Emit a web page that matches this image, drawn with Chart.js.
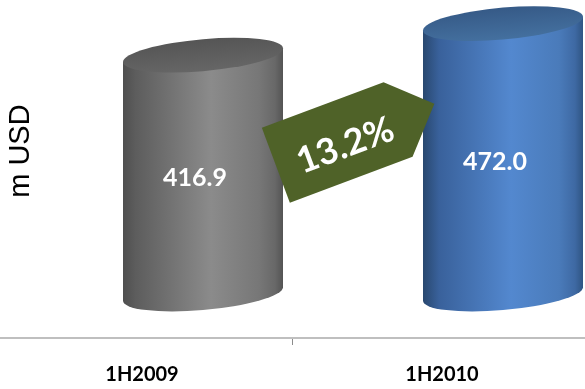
<!DOCTYPE html>
<html>
<head>
<meta charset="utf-8">
<script src="https://cdn.jsdelivr.net/npm/chart.js@4.4.1/dist/chart.umd.min.js"></script>
<style>
  html, body { margin: 0; padding: 0; background: #fff; overflow: hidden; }
  #wrap { width: 600px; height: 405px; margin-left: -8px; }
</style>
</head>
<body>
<div id="wrap"><canvas id="chart" width="600" height="405"></canvas></div>
<script>
'use strict';

// ── Data ──────────────────────────────────────────────────────────────────────
const categories = ['1H2009', '1H2010'];
const values     = [416.9, 472.0];
const axisTitle  = 'm USD';

// ── Look ──────────────────────────────────────────────────────────────────────
const DEPTH_X = 61;     // 3D shift of the cylinders to the right
const DEPTH_Y = 44;     // ... and upwards
const RX = 80, RY = 16; // cylinder ellipse radii
const SLOPE = -0.085;   // perspective tilt of the ellipses

const palettes = [
  { // grey
    side: [[0, '#4f4f4f'], [0.08, '#5d5d5d'], [0.55, '#8b8b8b'], [0.85, '#777777'], [0.95, '#686868'], [1, '#545454']],
    top: ['#555555', '#666666']
  },
  { // blue
    side: [[0, '#29486f'], [0.1, '#39619b'], [0.55, '#5388cf'], [0.85, '#4a7bba'], [0.95, '#3e69a3'], [1, '#2f5583']],
    top: ['#365a87', '#44709f']
  }
];

function drawCylinder(ctx, cx, top, bottom, pal) {
  ctx.save();
  ctx.transform(1, SLOPE, 0, 1, cx, 0);

  const g = ctx.createLinearGradient(-RX, 0, RX, 0);
  pal.side.forEach(s => g.addColorStop(s[0], s[1]));
  ctx.beginPath();
  ctx.moveTo(-RX, top);
  ctx.lineTo(-RX, bottom);
  ctx.ellipse(0, bottom, RX, RY, 0, Math.PI, 0, true);
  ctx.lineTo(RX, top);
  ctx.closePath();
  ctx.fillStyle = g;
  ctx.fill();

  const gt = ctx.createLinearGradient(0, top - RY, 0, top + RY);
  gt.addColorStop(0, pal.top[0]);
  gt.addColorStop(1, pal.top[1]);
  ctx.beginPath();
  ctx.ellipse(0, top, RX, RY, 0, 0, Math.PI * 2);
  ctx.fillStyle = gt;
  ctx.fill();
  ctx.restore();
}

function drawArrow(ctx, x, y, text) {
  ctx.save();
  ctx.translate(x, y);
  ctx.rotate(-0.358);
  ctx.beginPath();
  ctx.moveTo(-76, -40);
  ctx.lineTo(54, -40);
  ctx.lineTo(94, -2);
  ctx.lineTo(55, 40);
  ctx.lineTo(-76, 40);
  ctx.closePath();
  ctx.fillStyle = '#4f6228';
  ctx.fill();
  ctx.fillStyle = '#ffffff';
  ctx.font = "bold 36px Lato, 'Open Sans', sans-serif";
  ctx.textAlign = 'center';
  ctx.textBaseline = 'middle';
  ctx.fillText(text, -4, 6);
  ctx.restore();
}

// ── Plugin: cylinders, labels, growth tag, axis title ─────────────────────────
const cylinderPlugin = {
  id: 'cylinders',
  afterDatasetsDraw(chart) {
    const { ctx, chartArea, scales: { y } } = chart;
    const meta = chart.getDatasetMeta(0);
    const base = y.getPixelForValue(0);

    meta.data.forEach((bar, i) => {
      const cx = bar.x + DEPTH_X;
      const top = bar.y - DEPTH_Y;
      const bottom = base - DEPTH_Y;
      drawCylinder(ctx, cx, top, bottom, palettes[i]);

      ctx.save();
      ctx.fillStyle = '#ffffff';
      ctx.font = "bold 25px Lato, 'Open Sans', sans-serif";
      ctx.textAlign = 'center';
      ctx.textBaseline = 'middle';
      ctx.fillText(values[i].toFixed(1), cx - 8, (top + bottom) / 2 + 3);
      ctx.restore();
    });

    const growth = (values[1] / values[0] - 1) * 100;
    const w = chartArea.right - chartArea.left;
    const h = chartArea.bottom - chartArea.top;
    drawArrow(ctx, chartArea.left + 0.5917 * w, chartArea.top + 0.41 * h, growth.toFixed(1) + '%');

    ctx.save();
    ctx.translate(29, chartArea.top + 0.447 * h);
    ctx.rotate(-Math.PI / 2);
    ctx.fillStyle = '#000000';
    ctx.font = "29px 'Liberation Sans', Arial, sans-serif";
    ctx.textAlign = 'center';
    ctx.textBaseline = 'middle';
    ctx.fillText(axisTitle, 0, 0);
    ctx.restore();
  }
};

// ── Chart ─────────────────────────────────────────────────────────────────────
const ctx = document.getElementById('chart').getContext('2d');
new Chart(ctx, {
  type: 'bar',
  data: {
    labels: categories,
    datasets: [{
      data: values,
      backgroundColor: 'rgba(0,0,0,0)',
      borderWidth: 0
    }]
  },
  options: {
    responsive: false,
    animation: false,
    layout: { padding: 0 },
    plugins: { legend: { display: false }, tooltip: { enabled: false } },
    scales: {
      x: {
        grid: { offset: true, drawOnChartArea: false, tickLength: 7, tickColor: '#8c8c8c', tickWidth: 1 },
        border: { color: '#bfbfbf', width: 2 },
        ticks: {
          color: '#000000',
          padding: 18,
          font: { family: "Lato, 'Open Sans', sans-serif", weight: 'bold', size: 20 }
        }
      },
      y: { display: false, min: 0, max: 590 }
    }
  },
  plugins: [cylinderPlugin]
});
</script>
</body>
</html>
